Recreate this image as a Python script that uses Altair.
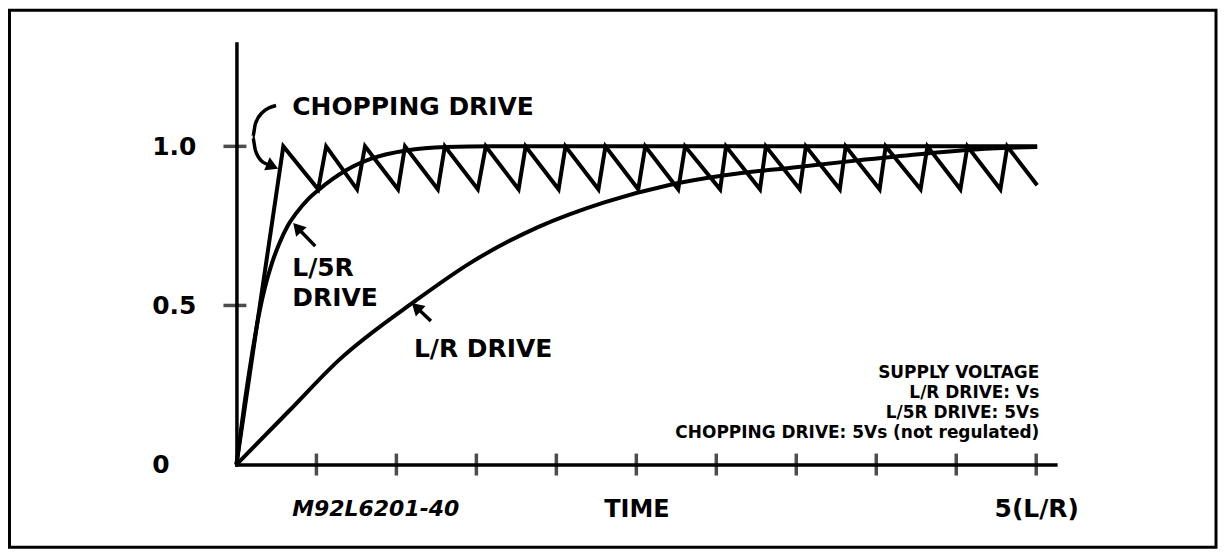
import altair as alt
import pandas as pd

# ---------------- data (time in L/R units, current normalised) ----------------
lr_t = [0, 0.33, 0.642, 1.12, 1.473, 1.889, 2.305, 2.70, 3.053, 3.468, 3.884, 4.30, 4.715, 5.006]
lr_v = [0, 0.169, 0.329, 0.515, 0.637, 0.747, 0.825, 0.878, 0.909, 0.933, 0.956, 0.977, 0.993, 0.998]

l5r_t = [0, 0.05, 0.1, 0.14, 0.18, 0.22, 0.268, 0.32, 0.374, 0.45, 0.511, 0.6, 0.686,
         0.848, 1.06, 1.309, 1.6, 5.006]
l5r_v = [0, 0.19, 0.355, 0.47, 0.56, 0.63, 0.695, 0.75, 0.79, 0.835, 0.862, 0.897, 0.925,
         0.962, 0.987, 0.998, 1.0, 1.0]

chop_t = [0, 0.293, 0.511, 0.561, 0.754, 0.804, 1.010, 1.054, 1.259, 1.303, 1.509, 1.559,
          1.764, 1.808, 2.014, 2.057, 2.263, 2.307, 2.512, 2.556, 2.762, 2.805, 3.024,
          3.061, 3.273, 3.310, 3.522, 3.560, 3.772, 3.809, 4.021, 4.059, 4.277, 4.320,
          4.526, 4.570, 4.776, 4.819, 5.006]
chop_v = [0, 1.0, 0.865, 1.0, 0.865, 1.0, 0.865, 1.0, 0.865, 1.0, 0.865, 1.0,
          0.865, 1.0, 0.865, 1.0, 0.865, 1.0, 0.865, 1.0, 0.865, 1.0, 0.865,
          1.0, 0.865, 1.0, 0.865, 1.0, 0.865, 1.0, 0.865, 1.0, 0.865, 1.0,
          0.865, 1.0, 0.865, 1.0, 0.878]

x_ticks = [0.5, 1.0, 1.5, 2.0, 2.5, 3.0, 3.5, 4.0, 4.5, 5.0]
y_ticks = [0.5, 1.0]
y_label_values = [0, 0.5, 1.0]

# annotation texts
main_labels = ["CHOPPING DRIVE", "L/5R", "DRIVE", "L/R DRIVE"]
main_t = [0.349, 0.349, 0.349, 1.110]
main_v = [1.100, 0.5925, 0.4984, 0.3386]

supply_labels = ["SUPPLY VOLTAGE", "L/R DRIVE: Vs", "L/5R DRIVE: 5Vs",
                 "CHOPPING DRIVE: 5Vs (not regulated)"]
supply_t = [5.019, 5.019, 5.019, 5.019]
supply_v = [0.2727, 0.2100, 0.1473, 0.0846]

code_label = ["M92L6201-40"]
code_t = [0.349]
code_v = [-0.163]

# arrows (annotation pointers)
arrow_id = [1, 1, 1, 1, 1, 1, 1, 2, 2, 3, 3]
arrow_t = [0.2475, 0.164, 0.1185, 0.1016, 0.1185, 0.164, 0.212, 0.4925, 0.389, 1.216, 1.133]
arrow_v = [1.1285, 1.1075, 1.0712, 1.0292, 0.9875, 0.9508, 0.941, 0.6865, 0.7404, 0.451, 0.4906]
head_t = [0.214, 0.389, 1.133]
head_v = [0.940, 0.7404, 0.4906]
head_angle = [113, 318, 313]

# ---------------- chart ----------------
FONT = "DejaVu Sans"
W, H = 821, 422
xs = alt.Scale(domain=[0, 5.12], nice=False, zero=False)
ys = alt.Scale(domain=[0, 1.323], nice=False, zero=False)

xaxis = alt.Axis(values=[5], labelExpr="'5(L/R)'", title="TIME", grid=False,
                 ticks=False, tickSize=0, domainWidth=3.5, domainColor="black",
                 domainCap="square",
                 labelFont=FONT, labelFontSize=25, labelFontWeight="bold",
                 labelColor="black", labelBaseline="alphabetic", labelPadding=52,
                 labelFlush=False, labelOverlap=False,
                 titleFont=FONT, titleFontSize=24, titleFontWeight="bold",
                 titleColor="black", titleX=401, titleY=52,
                 titleBaseline="alphabetic", titleAlign="center")
yaxis = alt.Axis(values=y_label_values,
                 labelExpr="datum.value == 0 ? '0' : format(datum.value, '.1f')",
                 title=None, grid=False, ticks=False, tickSize=0,
                 domainWidth=3.5, domainColor="black", domainCap="square",
                 labelFont=FONT, labelFontSize=25, labelFontWeight="bold",
                 labelColor="black", labelAlign="left", labelPadding=85,
                 labelBaseline="middle", labelFlush=False, labelOverlap=False)


def X(f):
    return alt.X(f"{f}:Q", scale=xs, axis=xaxis)


def Y(f):
    return alt.Y(f"{f}:Q", scale=ys, axis=yaxis)


df_lr = pd.DataFrame({"t": lr_t, "v": lr_v})
df_l5r = pd.DataFrame({"t": l5r_t, "v": l5r_v})
df_chop = pd.DataFrame({"t": chop_t, "v": chop_v, "i": range(len(chop_t))})

lr = alt.Chart(df_lr).mark_line(color="black", strokeWidth=4, interpolate="monotone").encode(x=X("t"), y=Y("v"))
l5r = alt.Chart(df_l5r).mark_line(color="black", strokeWidth=4, interpolate="monotone").encode(x=X("t"), y=Y("v"))
chop = alt.Chart(df_chop).mark_line(color="black", strokeWidth=4, strokeJoin="miter").encode(
    x=X("t"), y=Y("v"), order="i:Q")

xt = alt.Chart(pd.DataFrame({"t": x_ticks})).mark_tick(
    color="black", thickness=3.5, size=22, orient="vertical").encode(x=X("t"), y=alt.value(H))
yt = alt.Chart(pd.DataFrame({"v": y_ticks})).mark_tick(
    color="black", thickness=3.5, size=23, orient="horizontal").encode(y=Y("v"), x=alt.value(-1.5))

main_txt = alt.Chart(pd.DataFrame({"t": main_t, "v": main_v, "label": main_labels})).mark_text(
    align="left", baseline="alphabetic", font=FONT, fontSize=25, fontWeight="bold", color="black"
).encode(x=X("t"), y=Y("v"), text="label:N")

supply_txt = alt.Chart(pd.DataFrame({"t": supply_t, "v": supply_v, "label": supply_labels})).mark_text(
    align="right", baseline="alphabetic", font=FONT, fontSize=17, fontWeight="bold", color="black"
).encode(x=X("t"), y=Y("v"), text="label:N")

code_txt = alt.Chart(pd.DataFrame({"t": code_t, "v": code_v, "label": code_label})).mark_text(
    align="left", baseline="alphabetic", font=FONT, fontSize=22, fontWeight="bold",
    fontStyle="italic", color="black"
).encode(x=X("t"), y=Y("v"), text="label:N")

arrows = alt.Chart(pd.DataFrame({"id": arrow_id, "t": arrow_t, "v": arrow_v,
                                 "o": range(len(arrow_t))})).mark_line(
    color="black", strokeWidth=3.5, interpolate="monotone"
).encode(x=X("t"), y=Y("v"), detail="id:N", order="o:Q")

heads = alt.Chart(pd.DataFrame({"t": head_t, "v": head_v, "a": head_angle})).mark_point(
    shape="triangle", filled=True, color="black", size=200, opacity=1
).encode(x=X("t"), y=Y("v"), angle=alt.Angle("a:Q", scale=None))

border = alt.Chart(pd.DataFrame({"a": [0]})).mark_rect(
    filled=False, stroke="black", strokeWidth=3
).encode(x=alt.value(-227.5), x2=alt.value(982), y=alt.value(-33.5), y2=alt.value(505))

chart = alt.layer(border, lr, l5r, chop, xt, yt, arrows, heads, main_txt, supply_txt, code_txt).properties(
    width=W, height=H,
    background="white",
    autosize=alt.AutoSizeParams(type="none"),
    padding={"left": 229, "top": 35, "right": 164, "bottom": 87},
).configure_view(strokeWidth=0, stroke="transparent")

chart.save("out.html", embed_options={"renderer": "svg", "actions": False})
